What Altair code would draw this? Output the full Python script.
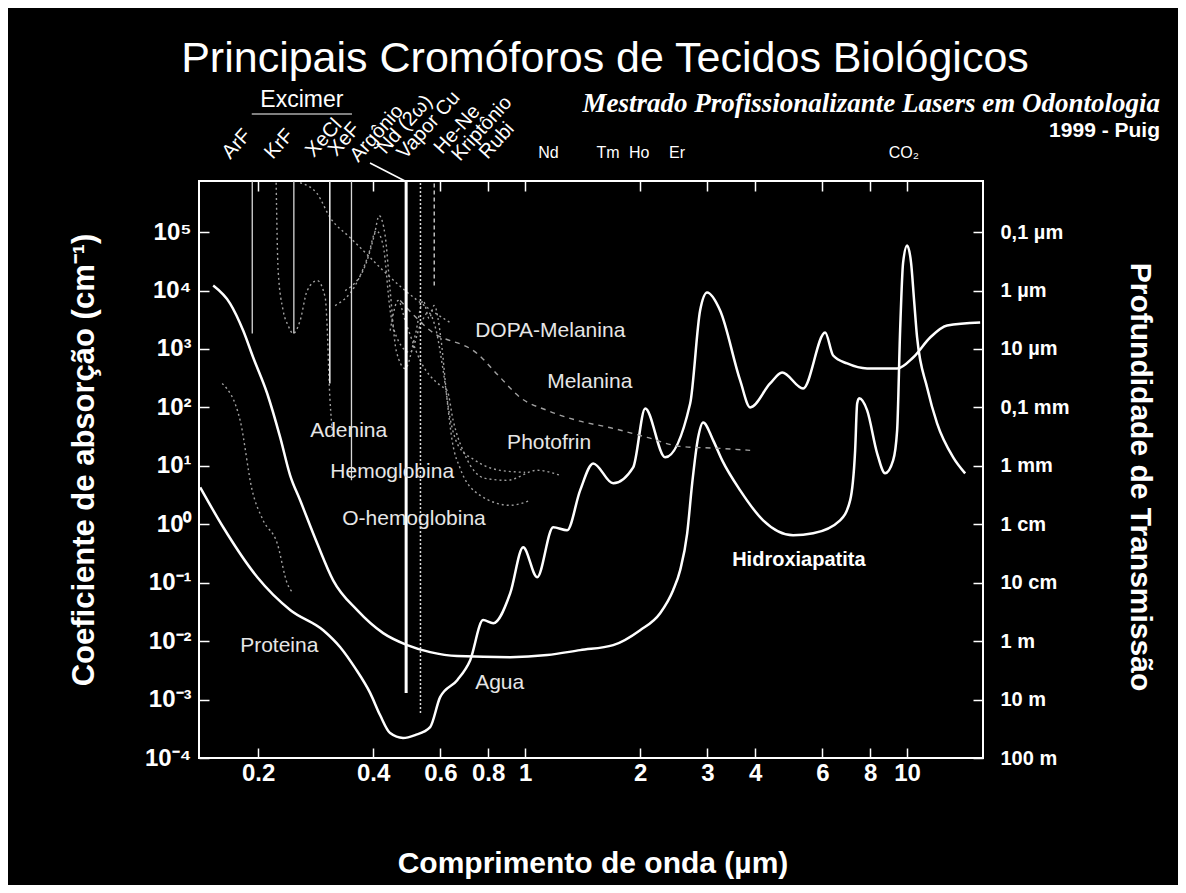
import math
import altair as alt
import pandas as pd

FONT = "Liberation Sans"

# ---------------- data (wavelength in µm, absorption coefficient in cm^-1) ----------------
water_wl = [0.141, 0.162, 0.199, 0.243, 0.296, 0.328, 0.359, 0.393, 0.417, 0.443, 0.479, 0.515,
            0.564, 0.599, 0.664, 0.718, 0.776, 0.825, 0.914, 0.988, 1.075, 1.184, 1.288, 1.393,
            1.507, 1.70, 1.918, 2.062, 2.325, 2.704, 2.871, 2.995, 3.239, 3.655, 3.882, 4.379,
            4.708, 5.342, 6.101, 6.403, 6.966, 7.859, 9.416, 10.37, 11.49, 12.73, 15.53]
water_abs = [4.29, 0.889, 0.124, 0.0339, 0.0154, 0.00788, 0.00345, 0.00129, 5.43e-4, 2.67e-4,
             2.20e-4, 2.47e-4, 3.39e-4, 1.10e-3, 2.15e-3, 4.73e-3, 0.0229, 0.0203, 0.0662, 0.405,
             0.124, 0.889, 0.789, 3.81, 11.0, 5.02, 9.42, 96.1, 14.0, 117, 4550, 9240, 4550, 290,
             100, 257, 396, 211, 1914, 774, 565, 464, 464, 716, 1573, 2522, 2838]

hap_wl = [0.1525, 0.1689, 0.1827, 0.1941, 0.2112, 0.2284, 0.2425, 0.2576, 0.2854, 0.3143, 0.3633,
          0.4249, 0.4911, 0.5641, 0.6637, 0.9135, 1.142, 1.393, 1.70, 2.0, 2.256, 2.44, 2.546,
          2.656, 2.737, 2.837, 2.924, 3.106, 3.28, 3.655, 4.198, 5.03, 5.675, 6.677, 7.093, 7.31,
          7.40, 7.49, 7.859, 8.346, 8.757, 9.191, 9.416, 9.587, 9.761, 10.0, 10.24, 10.43, 10.62,
          11.28, 11.98, 13.2, 14.19]
hap_abs = [12170, 5990, 2070, 716, 173, 30.7, 6.88, 2.57, 0.473, 0.110, 0.0339, 0.0137, 0.00855,
           0.00649, 0.00555, 0.00532, 0.00577, 0.00702, 0.00855, 0.0154, 0.0301, 0.0745, 0.164,
           0.701, 5.02, 30.7, 55.4, 27.3, 12.4, 3.81, 1.17, 0.649, 0.701, 1.17, 2.57, 18.4, 117,
           143, 88.9, 16.4, 7.44, 12.4, 40.5, 2070, 30130, 58770, 30130, 6745, 1573, 220, 53.3,
           14.0, 7.44]

hb_wl = [0.3181, 0.3589, 0.3882, 0.4074, 0.4249, 0.4432, 0.4652, 0.5, 0.5311, 0.5573, 0.5848,
         0.61, 0.6362, 0.6677, 0.7398, 0.8603, 1.0]
hb_abs = [5540, 12170, 39630, 1.06e5, 58770, 4550, 1397, 871, 2522, 4210, 2070, 429, 64.9, 22.4,
          12.4, 8.38, 7.74]

hbo_wl = [0.3379, 0.3813, 0.4025, 0.4148, 0.43, 0.4432, 0.4596, 0.4851, 0.5153, 0.5408, 0.5607,
          0.5778, 0.6027, 0.6249, 0.6439, 0.6758, 0.7624, 0.9135, 1.031]
hbo_abs = [10000, 26730, 87100, 1.91e5, 87100, 10000, 942, 464, 1702, 6745, 3320, 5540, 1397, 132,
           27.3, 9.06, 3.13, 2.11, 2.57]

ade_wl = [0.2229, 0.2256, 0.2325, 0.2396, 0.2469, 0.2576, 0.2688, 0.2854, 0.2996, 0.3032, 0.3069,
          0.3125]
ade_abs = [7.0e5, 21970, 4550, 2522, 1841, 3070, 10000, 14830, 7590, 2330, 257, 40.4]

dopa_wl = [0.2576, 0.2854, 0.3087, 0.3483, 0.3813, 0.4249, 0.4851, 0.5539, 0.6362]
dopa_abs = [7.0e5, 4.55e5, 1.77e5, 80500, 44640, 21970, 10000, 5120, 2838]

mel_wl = [0.4708, 0.5641, 0.7485, 0.8603, 0.9703, 1.142, 1.368, 1.70, 2.086, 2.546, 3.239, 3.882]
mel_abs = [6745, 2070, 838, 326, 148, 88.9, 60, 43.8, 30.7, 21.5, 19.9, 18.4]

pho_wl = [0.4432, 0.4652, 0.4851, 0.5311, 0.5991, 0.6249, 0.6479, 0.6965, 0.7857, 0.8971, 1.075,
          1.235]
pho_abs = [2070, 6745, 3070, 635, 238, 195, 60, 15.1, 6.11, 5.65, 8.4, 6.88]

pro_wl = [0.161, 0.1794, 0.1929, 0.2061, 0.2243, 0.2382, 0.2469]
pro_abs = [257, 60, 3.81, 1.17, 0.473, 0.098, 0.0662]

# lasers
laser_names = ["ArF", "KrF", "XeCl", "XeF", "Argônio", "Nd (2ω)", "Vapor Cu", "He-Ne",
               "Kriptônio", "Rubi", "Nd", "Tm", "Ho", "Er", "CO₂"]
laser_wl = [0.193, 0.248, 0.308, 0.351, 0.488, 0.532, 0.578, 0.633, 0.647, 0.694, 1.064, 2.01,
            2.10, 2.94, 10.6]
excimer_names = ["ArF", "KrF", "XeCl", "XeF"]

# visible emission lines and how far down they reach (cm^-1)
line_names = ["ArF", "KrF", "XeCl", "XeF", "Argônio", "Nd (2ω)", "Vapor Cu"]
line_end_abs = [1841, 1841, 257, 5.65, 1.29e-3, 5.87e-4, 12170]

# curve labels
curve_labels = ["DOPA-Melanina", "Melanina", "Adenina", "Photofrin", "Hemoglobina",
                "O-hemoglobina", "Proteina", "Agua"]
curve_label_wl = [0.7398, 1.142, 0.2736, 0.897, 0.309, 0.3319, 0.1794, 0.7398]
curve_label_abs = [2070, 267, 38.9, 24.3, 7.74, 1.22, 8.22e-3, 1.91e-3]
hap_label = "Hidroxiapatita"
hap_label_wl = 3.483
hap_label_abs = 0.243

# axes
x_tick_values = [0.2, 0.4, 0.6, 0.8, 1, 2, 3, 4, 6, 8, 10]
x_tick_labels = ["0.2", "0.4", "0.6", "0.8", "1", "2", "3", "4", "6", "8", "10"]
y_tick_values = [1e-4, 1e-3, 1e-2, 1e-1, 1, 10, 100, 1e3, 1e4, 1e5]
y_tick_labels = ["10⁻⁴", "10⁻³", "10⁻²", "10⁻¹", "10⁰", "10¹", "10²", "10³", "10⁴", "10⁵"]
depth_labels = ["100 m", "10 m", "1 m", "10 cm", "1 cm", "1 mm", "0,1 mm", "10 µm", "1 µm",
                "0,1 µm"]

title_text = "Principais Cromóforos de Tecidos Biológicos"
subtitle_text = "Mestrado Profissionalizante Lasers em Odontologia"
author_text = "1999 - Puig"
x_title = "Comprimento de onda (µm)"
y_title = "Coeficiente de absorção (cm⁻¹)"
y2_title = "Profundidade de Transmissão"

# ---------------- styles ----------------
W, H = 784, 577
XS = alt.Scale(type="log", domain=[0.14, 15.8], nice=False)
YS = alt.Scale(type="log", domain=[1e-4, 7.5e5], nice=False)

# screen offsets (px) for rotated laser labels: (horizontal shift, y above plot)
rot_style = {"ArF": (-22, -21), "KrF": (-21, -21), "XeCl": (-16, -23), "XeF": (-15, -24),
             "Argônio": (-48, -18), "Nd (2ω)": (-35, -26), "Vapor Cu": (-29, -21),
             "He-Ne": (-7, -26), "Kriptônio": (7, -19), "Rubi": (23, -21)}
flat_style = {"Nd": (13, -23), "Tm": (-33, -23), "Ho": (-9, -23), "Er": (-27, -23),
              "CO₂": (-13, -23)}
line_style = {"ArF": dict(color="#d8d8d8", strokeWidth=1.3),
              "KrF": dict(color="#d8d8d8", strokeWidth=1.3),
              "XeCl": dict(color="#e8e8e8", strokeWidth=1.6),
              "XeF": dict(color="#d8d8d8", strokeWidth=1.3),
              "Argônio": dict(color="white", strokeWidth=3),
              "Nd (2ω)": dict(color="#d8d8d8", strokeWidth=1.5, strokeDash=[2, 2]),
              "Vapor Cu": dict(color="#d8d8d8", strokeWidth=1.3, strokeDash=[4, 3])}


def xenc(field="wl", axis=None):
    return alt.X(f"{field}:Q", scale=XS, axis=axis)


def yenc(field="a", axis=None):
    return alt.Y(f"{field}:Q", scale=YS, axis=axis)


def lexpr(values, labels):
    vals = ",".join(repr(float(v)) for v in values)
    labs = ",".join("'" + s + "'" for s in labels)
    return "[" + labs + "][indexof([" + vals + "], datum.value)]"


common_axis = dict(offset=-10, tickSize=10, tickColor="white", tickWidth=1.5, domain=False,
                   grid=False, labelColor="white", labelFont=FONT, labelFontWeight="bold",
                   labelOverlap=False, labelFlush=False, labelBound=False, title=None)
ax_bottom = alt.Axis(orient="bottom", values=x_tick_values,
                     labelExpr=lexpr(x_tick_values, x_tick_labels), labelFontSize=24,
                     labelPadding=3, **common_axis)
ax_left = alt.Axis(orient="left", values=y_tick_values,
                   labelExpr=lexpr(y_tick_values, y_tick_labels), labelFontSize=24,
                   labelPadding=8, **common_axis)
ax_top = alt.Axis(orient="top", values=x_tick_values, labels=False, **common_axis)
ax_right = alt.Axis(orient="right", values=y_tick_values,
                    labelExpr=lexpr(y_tick_values, depth_labels), labelFontSize=20,
                    labelPadding=17, **common_axis)

layers = []

# main solid curves (water carries bottom/left axes)
water = alt.Chart(pd.DataFrame({"wl": water_wl, "a": water_abs})).mark_line(
    color="white", strokeWidth=2.5, interpolate="monotone").encode(
    x=xenc(axis=ax_bottom), y=yenc(axis=ax_left))
layers.append(water)

axes2 = alt.Chart(pd.DataFrame({"wl": x_tick_values, "a": [1.0] * len(x_tick_values)})).mark_point(
    opacity=0).encode(x=xenc(axis=ax_top), y=yenc(axis=ax_right))
layers.append(axes2)

hap = alt.Chart(pd.DataFrame({"wl": hap_wl, "a": hap_abs})).mark_line(
    color="white", strokeWidth=2.5, interpolate="monotone").encode(x=xenc(), y=yenc())
layers.append(hap)

# faint dotted curves
faint = []
for nm, wl, ab in [("Hemoglobina", hb_wl, hb_abs), ("O-hemoglobina", hbo_wl, hbo_abs),
                   ("Adenina", ade_wl, ade_abs), ("DOPA-Melanina", dopa_wl, dopa_abs),
                   ("Photofrin", pho_wl, pho_abs), ("Proteina", pro_wl, pro_abs)]:
    faint.append(pd.DataFrame({"wl": wl, "a": ab, "name": nm}))
faint_df = pd.concat(faint, ignore_index=True)
layers.append(alt.Chart(faint_df).mark_line(
    color="#a0a0a0", strokeWidth=1.4, strokeDash=[2, 3], interpolate="monotone").encode(
    x=xenc(), y=yenc(), detail="name:N"))
layers.append(alt.Chart(pd.DataFrame({"wl": mel_wl, "a": mel_abs})).mark_line(
    color="#a0a0a0", strokeWidth=1.4, strokeDash=[5, 5], interpolate="monotone").encode(
    x=xenc(), y=yenc()))

# laser emission lines
for nm, end in zip(line_names, line_end_abs):
    wl = laser_wl[laser_names.index(nm)]
    layers.append(alt.Chart(pd.DataFrame({"wl": [wl], "a": [end]})).mark_rule(
        **line_style[nm]).encode(x=xenc(), y=yenc(), y2=alt.value(0)))

# leader from the Argônio label to its line
layers.append(alt.Chart(pd.DataFrame({"t": ["Argônio"]})).mark_rule(
    color="white", strokeWidth=1.5).encode(
    x=alt.value(171), x2=alt.value(206), y=alt.value(-18), y2=alt.value(0)))

# laser labels
c48, s48 = math.cos(math.radians(48)), math.sin(math.radians(48))
for nm, wl in zip(laser_names, laser_wl):
    df = pd.DataFrame({"wl": [wl], "t": [nm]})
    if nm in rot_style:
        X, Y = rot_style[nm]
        layers.append(alt.Chart(df).mark_text(
            angle=312, align="left", baseline="alphabetic", dx=c48 * X, dy=s48 * X,
            fontSize=20, font=FONT, color="white").encode(
            x=xenc(), y=alt.value(Y), text="t:N"))
    else:
        X, Y = flat_style[nm]
        layers.append(alt.Chart(df).mark_text(
            align="center", baseline="alphabetic", dx=X, fontSize=16, font=FONT,
            color="white").encode(x=xenc(), y=alt.value(Y), text="t:N"))

# Excimer group label with underline
ex_wl = [laser_wl[laser_names.index(n)] for n in excimer_names]
ex_center = math.exp(sum(math.log(v) for v in [min(ex_wl), max(ex_wl)]) / 2)
layers.append(alt.Chart(pd.DataFrame({"wl": [ex_center], "t": ["Excimer"]})).mark_text(
    align="center", baseline="alphabetic", fontSize=23, font=FONT, color="white").encode(
    x=xenc(), y=alt.value(-74), text="t:N"))
layers.append(alt.Chart(pd.DataFrame({"wl": [min(ex_wl)], "wl2": [max(ex_wl)]})).mark_rule(
    color="white", strokeWidth=1, strokeCap="square").encode(
    x=xenc(), x2="wl2:Q", y=alt.value(-67)))

# curve labels
layers.append(alt.Chart(pd.DataFrame({"wl": curve_label_wl, "a": curve_label_abs,
                                      "t": curve_labels})).mark_text(
    align="left", baseline="middle", fontSize=21, font=FONT, color="#e6e6e6").encode(
    x=xenc(), y=yenc(), text="t:N"))
layers.append(alt.Chart(pd.DataFrame({"wl": [hap_label_wl], "a": [hap_label_abs],
                                      "t": [hap_label]})).mark_text(
    align="left", baseline="middle", fontSize=20, fontWeight="bold", font=FONT,
    color="white").encode(x=xenc(), y=yenc(), text="t:N"))

# titles


def ptext(t, x, y, **kw):
    return alt.Chart(pd.DataFrame({"t": [t]})).mark_text(color="white", **kw).encode(
        x=alt.value(x), y=alt.value(y), text="t:N")


layers.append(ptext(title_text, 406, -109, align="center", baseline="alphabetic",
                    fontSize=43, font=FONT))
layers.append(ptext(subtitle_text, 961, -69, align="right", baseline="alphabetic",
                    fontSize=27, font="Liberation Serif", fontStyle="italic",
                    fontWeight="bold"))
layers.append(ptext(author_text, 961, -44, align="right", baseline="alphabetic",
                    fontSize=21, font=FONT, fontWeight="bold"))
layers.append(ptext(x_title, 394, 692, align="center", baseline="alphabetic",
                    fontSize=30, font=FONT, fontWeight="bold"))
layers.append(ptext(y_title, -114, 279, align="center", baseline="middle", angle=270,
                    fontSize=31, font=FONT, fontWeight="bold"))
layers.append(ptext(y2_title, 941, 296, align="center", baseline="middle", angle=90,
                    fontSize=30, font=FONT, fontWeight="bold"))

chart = alt.layer(*layers).resolve_axis(x="independent", y="independent").properties(
    width=W, height=H, background="black",
    padding={"left": 191, "top": 173, "right": 195, "bottom": 127},
    autosize=alt.AutoSizeParams(type="none"),
).configure_view(stroke="white", strokeWidth=2)

chart.save("out.html", embed_options={"renderer": "svg", "actions": False})
